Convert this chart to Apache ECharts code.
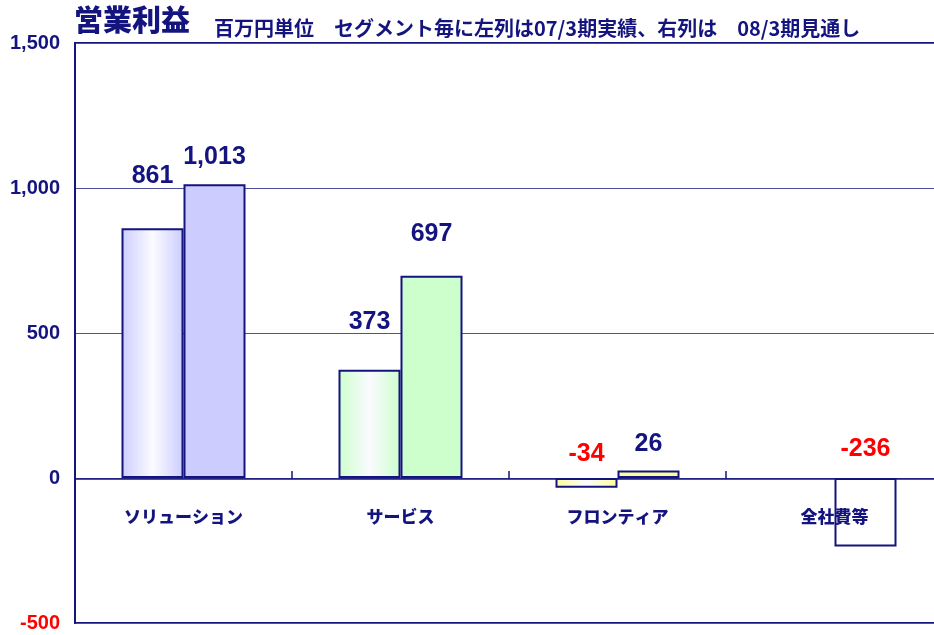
<!DOCTYPE html>
<html>
<head>
<meta charset="utf-8">
<script src="https://cdn.jsdelivr.net/npm/echarts@6/dist/echarts.min.js"></script>
<style>
html, body { margin: 0; padding: 0; background: #ffffff; }
#main { width: 934px; height: 635px; }
</style>
</head>
<body>
<div id="main"></div>
<script>
// データ（百万円）
var categories = ['ソリューション', 'サービス', 'フロンティア', '全社費等'];
var actual0703 = [861, 373, -34, null];      // 左列: 07/3期実績
var forecast0803 = [1013, 697, 26, -236];    // 右列: 08/3期見通し
var yMin = -500;
var yMax = 1500;
var yStep = 500;

// ラベル位置の微調整（棒の上端からのずれ）
var labelDyActual = [-52, -48, -24, 0];
var labelDyForecast = [-27, -42, -26, -29];

var NAVY = '#14147f';
var RED = '#ff0000';
var barColors = ['#ccccff', '#ccffcc', '#ffff99', 'rgba(255,255,255,0)'];
var NUMFONT = "'Liberation Sans', Arial, sans-serif";
var CJK = "'Noto Sans CJK JP', sans-serif";

function glow(color) {
	return {
		type: 'linear', x: 0, y: 0, x2: 1, y2: 0,
		colorStops: [
			{ offset: 0, color: color },
			{ offset: 0.5, color: '#fbfbff' },
			{ offset: 1, color: color }
		]
	};
}

function fmt(v) {
	return Number(v).toLocaleString('en-US');
}

function buildData(values, dys, left) {
	return values.map(function (v, i) {
		if (v == null) return '-';
		return {
			value: v,
			itemStyle: { color: left ? glow(barColors[i]) : barColors[i] },
			label: {
				position: ['50%', dys[i]],
				color: v < 0 ? RED : NAVY
			}
		};
	});
}

var barLabel = {
	show: true,
	align: 'center',
	verticalAlign: 'middle',
	fontSize: 25,
	fontWeight: 'bold',
	fontFamily: NUMFONT,
	formatter: function (p) { return fmt(p.value); }
};

var myChart = echarts.init(document.getElementById('main'));
myChart.setOption({
	animation: false,
	backgroundColor: '#ffffff',
	title: [{
		text: '営業利益',
		left: 74,
		top: 5,
		padding: 0,
		textStyle: { fontSize: 29, fontWeight: 900, color: NAVY, fontFamily: CJK }
	}, {
		text: '百万円単位　セグメント毎に左列は07/3期実績、右列は　08/3期見通し',
		left: 214,
		top: 18,
		padding: 0,
		textStyle: { fontSize: 20, fontWeight: 'bold', color: NAVY, fontFamily: CJK }
	}],
	grid: {
		left: 75,
		top: 43,
		right: -9,
		bottom: 12,
		containLabel: false,
		outerBoundsMode: 'none',
		show: true,
		borderColor: NAVY,
		borderWidth: 2
	},
	xAxis: {
		type: 'category',
		data: categories,
		z: 5,
		// 0 の位置に軸を置く（グリッド下端から上へずらす）
		offset: -144,
		axisLine: { onZero: false, lineStyle: { color: NAVY, width: 1.5 } },
		axisTick: { show: true, inside: true, length: 8, interval: 0, lineStyle: { color: NAVY, width: 1.5 } },
		axisLabel: {
			margin: 29,
			fontSize: 17,
			fontWeight: 900,
			color: NAVY,
			fontFamily: CJK
		}
	},
	yAxis: {
		type: 'value',
		min: yMin,
		max: yMax,
		interval: yStep,
		axisLine: { show: true, lineStyle: { color: NAVY, width: 2 } },
		axisTick: { show: false },
		splitLine: { lineStyle: { color: '#5050a0', width: 1 } },
		axisLabel: {
			margin: 15,
			fontSize: 20,
			fontWeight: 'bold',
			fontFamily: NUMFONT,
			formatter: fmt,
			color: function (v) { return Number(v) < 0 ? RED : NAVY; }
		}
	},
	series: [{
		name: '07/3期実績',
		type: 'bar',
		barWidth: 62,
		barGap: '0%',
		itemStyle: { borderColor: NAVY, borderWidth: 2 },
		label: barLabel,
		data: buildData(actual0703, labelDyActual, true)
	}, {
		name: '08/3期見通し',
		type: 'bar',
		barWidth: 62,
		barGap: '0%',
		itemStyle: { borderColor: NAVY, borderWidth: 2 },
		label: barLabel,
		data: buildData(forecast0803, labelDyForecast, false)
	}]
});
</script>
</body>
</html>
